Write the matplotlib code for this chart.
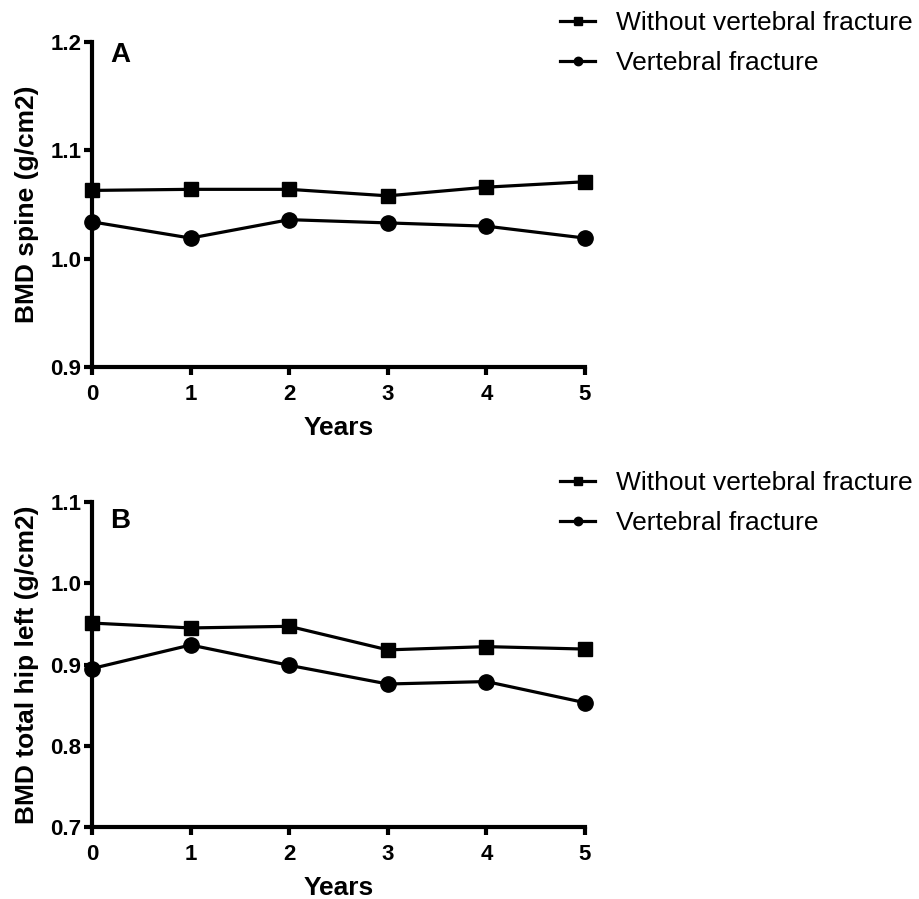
import matplotlib
matplotlib.use('Agg')
import matplotlib.pyplot as plt

plt.rcParams['font.family'] = ['Liberation Sans', 'DejaVu Sans']

years = [0, 1, 2, 3, 4, 5]
spine_without = [1.063, 1.064, 1.064, 1.058, 1.066, 1.071]
spine_fracture = [1.034, 1.019, 1.036, 1.033, 1.030, 1.019]
hip_without = [0.951, 0.945, 0.947, 0.918, 0.922, 0.919]
hip_fracture = [0.895, 0.924, 0.899, 0.876, 0.879, 0.853]

labels = ['Without vertebral fracture', 'Vertebral fracture']


def draw_panel(ax, without, fracture, ylim, yticks, ylabel, letter, letter_y, leg_y):
    ax.plot(years, without, color='black', lw=2.3, marker='s', markersize=10.5,
            clip_on=False, zorder=3, label=labels[0])
    ax.plot(years, fracture, color='black', lw=2.3, marker='o', markersize=11,
            clip_on=False, zorder=3, label=labels[1])
    ax.set_xlim(0, 5)
    ax.set_ylim(*ylim)
    ax.set_xticks(years)
    ax.set_yticks(yticks)
    ax.set_yticklabels(['%.1f' % t for t in yticks])
    for s in ['top', 'right']:
        ax.spines[s].set_visible(False)
    for s in ['left', 'bottom']:
        ax.spines[s].set_linewidth(3)
    ax.tick_params(width=3, length=6, labelsize=16)
    ax.tick_params(axis='y', pad=1.5)
    ax.tick_params(axis='x', pad=6)
    for lab in ax.get_xticklabels() + ax.get_yticklabels():
        lab.set_fontweight('bold')
    ax.set_xlabel('Years', fontsize=19, fontweight='bold', labelpad=8)
    ax.set_ylabel(ylabel, fontsize=19, fontweight='bold', labelpad=8)
    ax.text(0.0365, letter_y, letter, transform=ax.transAxes, fontsize=20,
            fontweight='bold', va='baseline', ha='left')
    ax.figure.legend(loc='upper left', bbox_to_anchor=(560 / 919, leg_y),
                     handles=ax.get_lines(), frameon=False, fontsize=19,
                     markerscale=0.55, handlelength=1.33, handletextpad=0.8,
                     labelspacing=0.6, borderpad=0, borderaxespad=0)


fig = plt.figure(figsize=(9.19, 8.99), dpi=100)
ax1 = fig.add_axes([92 / 919, 1 - 367 / 899, 493 / 919, 325 / 899])
ax2 = fig.add_axes([92 / 919, 1 - 827 / 899, 493 / 919, 325 / 899])

draw_panel(ax1, spine_without, spine_fracture, (0.9, 1.2),
           [0.9, 1.0, 1.1, 1.2], 'BMD spine (g/cm2)', 'A', 0.938, 1 - 11 / 899)
draw_panel(ax2, hip_without, hip_fracture, (0.7, 1.1),
           [0.7, 0.8, 0.9, 1.0, 1.1], 'BMD total hip left (g/cm2)', 'B', 0.92, 1 - 471 / 899)

fig.savefig('out.png', dpi=100)
